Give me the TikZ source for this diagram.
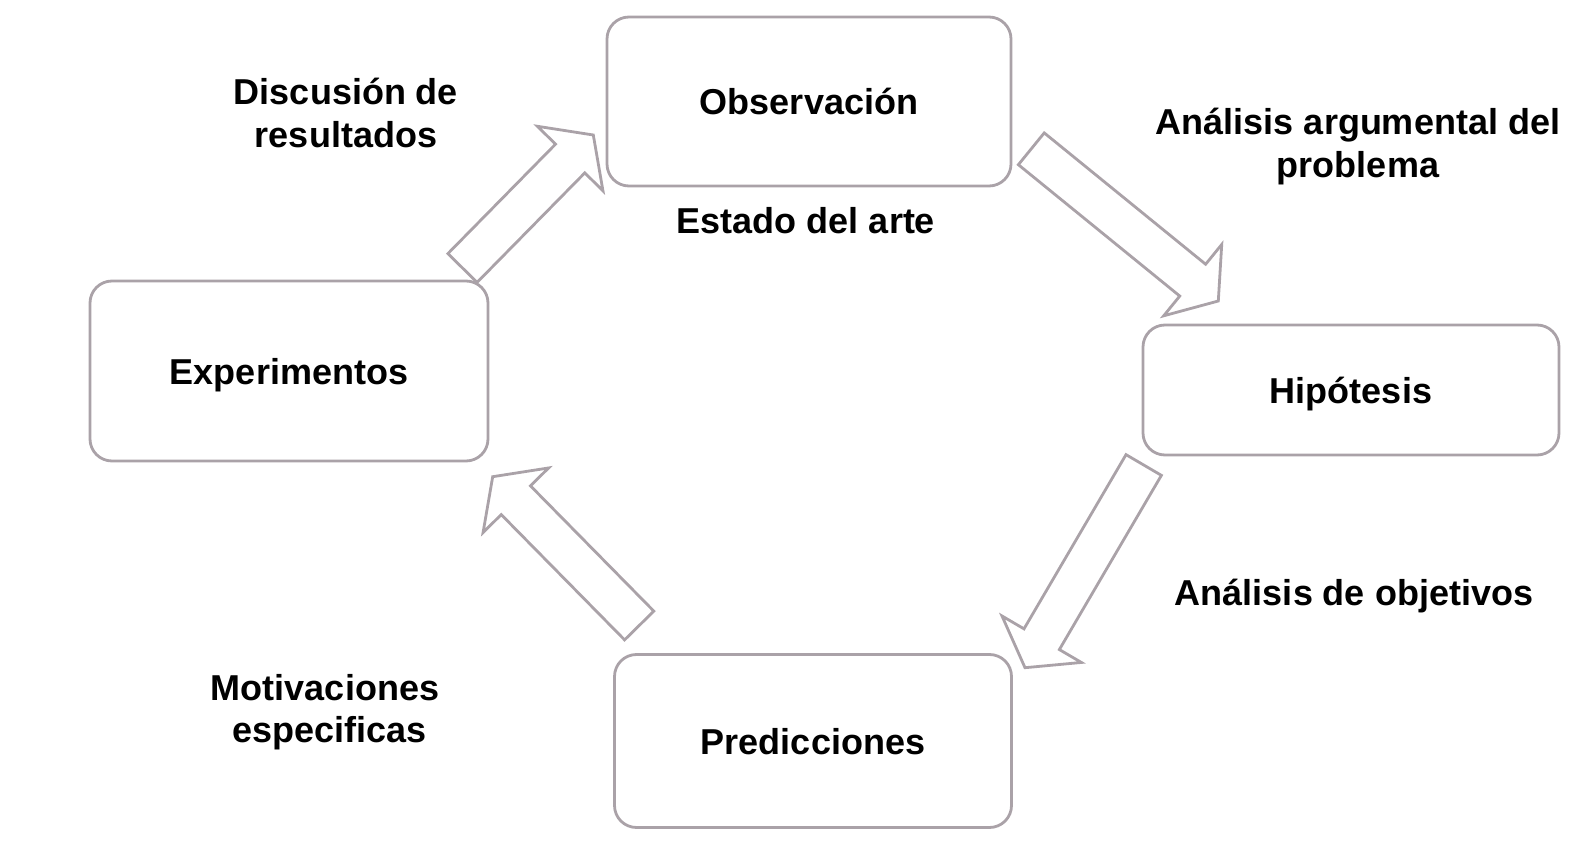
\documentclass[tikz,border=0pt]{standalone}
\usepackage{fontspec}
\setmainfont{Liberation Sans}
\usetikzlibrary{calc}
\definecolor{gris}{RGB}{170,162,168}

\begin{document}
\begin{tikzpicture}[
    x=1pt, y=-1pt,
    caja/.style={draw=gris, line width=2.8pt, rounded corners=22pt, align=center, text height=26pt, text depth=0pt, font=\fontsize{36}{42.5}\selectfont\bfseries},
    etiqueta/.style={align=center, font=\fontsize{36}{42.5}\selectfont\bfseries},
    bloque/.style={draw=gris, line width=2.8pt, line join=miter,
        to path={let \p1=($(\tikztotarget)-(\tikztostart)$), \n1={atan2(\y1,\x1)}, \n2={veclen(\x1,\y1)} in
            ($(\tikztostart)+(\n1+90:20.5pt)$)
            -- ($(\tikztostart)+(\n1:\n2-33pt)+(\n1+90:20.5pt)$)
            -- ($(\tikztostart)+(\n1:\n2-33pt)+(\n1+90:46pt)$)
            -- (\tikztotarget)
            -- ($(\tikztostart)+(\n1:\n2-33pt)+(\n1-90:46pt)$)
            -- ($(\tikztostart)+(\n1:\n2-33pt)+(\n1-90:20.5pt)$)
            -- ($(\tikztostart)+(\n1-90:20.5pt)$) -- cycle}}
]
\useasboundingbox (0,0) rectangle (1588,861);

% las cuatro etapas
\node[caja, minimum width=404pt, minimum height=169pt] (obs) at (809,101.5) {Observación};
\node[caja, minimum width=416pt, minimum height=130pt] (hip) at (1351,390) {Hipótesis};
\node[caja, minimum width=397pt, minimum height=173pt] (pred) at (813,741) {Predicciones};
\node[caja, minimum width=398pt, minimum height=180pt] (exp) at (289,371) {Experimentos};

% textos sueltos
\node[etiqueta] (disc) at (346,113) {Discusión de\\resultados};
\node[etiqueta] (arte) at (806,221) {Estado del arte};
\node[etiqueta] (argu) at (1358,146.5) {Análisis argumental del\\problema};
\node[etiqueta] (obje) at (1354,596) {Análisis de objetivos};
\node[etiqueta] (moti) at (325,712) {Motivaciones\\\hspace*{9pt}especificas};

% flechas huecas
\coordinate (e1) at (462.5,268);   \coordinate (o1) at (593.3,135);
\coordinate (o2) at (1031.3,148.8); \coordinate (h2) at (1218.3,301);
\coordinate (h3) at (1143.7,465);  \coordinate (p3) at (1025,667.7);
\coordinate (p4) at (639.2,625.5); \coordinate (e4) at (492.7,476.7);
\draw[bloque] (e1) to (o1);
\draw[bloque] (o2) to (h2);
\draw[bloque] (h3) to (p3);
\draw[bloque] (p4) to (e4);
\end{tikzpicture}
\end{document}
